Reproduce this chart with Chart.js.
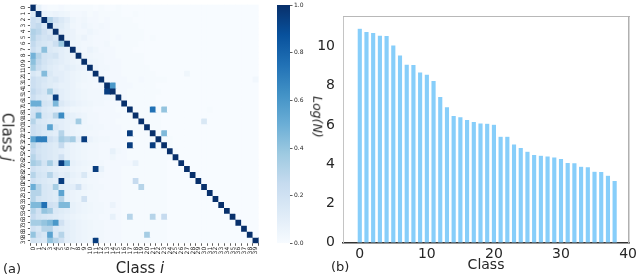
<!DOCTYPE html>
<html><head><meta charset="utf-8">
<script src="https://cdn.jsdelivr.net/npm/chart.js@4.4.0/dist/chart.umd.min.js"></script>
<style>
html,body{margin:0;padding:0;background:#fff;width:640px;height:277px;overflow:hidden;font-family:"DejaVu Sans",sans-serif;}
.box{position:absolute;top:0;height:277px;}
.lbl{position:absolute;color:#262626;white-space:nowrap;line-height:1;}
</style></head><body>
<div class="box" style="left:0;width:264px"><canvas id="heat"></canvas></div>
<div class="box" style="left:264px;width:46px"><canvas id="cbar"></canvas></div>
<div class="box" style="left:300px;width:340px"><canvas id="bars"></canvas></div>
<div class="lbl" style="left:7px;top:137px;font-size:15px;transform:translate(-50%,-50%) rotate(90deg)">Class <i>j</i></div>
<div class="lbl" style="left:140px;top:268px;font-size:15px;transform:translate(-50%,-50%)">Class <i>i</i></div>
<div class="lbl" style="left:3px;top:268px;font-size:13px;transform:translate(0,-50%)">(a)</div>
<div class="lbl" style="left:331px;top:266px;font-size:13px;transform:translate(0,-50%)">(b)</div>
<div class="lbl" style="left:317px;top:117px;font-size:12.5px;font-style:italic;transform:translate(-50%,-50%) rotate(90deg)">Log(N)</div>
<script>
// ---- data ----
const classLabels = Array.from({length: 40}, (_, i) => String(i));
// confusion matrix, percent of row (rows = class j, columns = class i)
const confusion = [
[100,8,2,1,1,2,1,1,1,1, 1,0,1,0,0,1,0,0,0,0, 0,0,0,0,0,0,0,0,0,0, 0,0,0,0,0,0,0,0,0,0],
[12,100,6,5,6,5,4,2,2,3, 1,2,1,1,1,1,0,0,1,0, 0,0,0,0,0,0,0,0,0,0, 0,0,0,0,0,0,0,0,0,0],
[22,18,100,30,20,14,10,5,3,4, 2,2,1,2,1,1,1,1,0,0, 0,0,0,0,0,0,0,0,0,0, 0,0,0,0,0,0,0,0,0,0],
[22,26,14,100,14,12,8,4,3,5, 3,2,3,2,1,1,1,1,1,0, 0,0,0,0,0,0,0,0,0,0, 0,0,0,0,0,0,0,0,0,0],
[32,28,20,14,100,10,8,6,3,3, 5,3,2,2,1,1,1,1,1,1, 0,0,0,0,0,0,0,0,0,0, 0,0,0,0,0,0,0,0,0,0],
[30,22,18,20,16,100,8,6,4,6, 3,2,2,2,1,2,1,1,1,1, 0,1,0,0,0,0,0,0,0,0, 0,0,0,0,0,0,0,0,0,0],
[26,18,16,14,22,38,100,5,4,3, 3,2,2,3,1,1,1,1,1,0, 0,0,0,0,0,0,0,0,0,0, 0,0,0,0,0,0,0,0,0,0],
[22,16,42,14,12,10,8,100,5,3, 6,4,2,2,2,1,1,1,0,0, 0,0,0,0,0,0,0,0,0,0, 0,0,0,0,0,0,0,0,0,0],
[48,30,18,16,18,10,8,6,100,4, 4,3,3,2,2,1,1,1,1,1, 0,0,0,0,0,0,0,0,0,0, 0,0,0,0,0,0,0,0,0,0],
[42,26,18,14,12,10,8,6,5,100, 5,4,3,2,2,2,1,1,1,1, 0,0,0,0,0,0,0,0,0,0, 0,0,0,0,0,0,0,0,0,0],
[36,22,16,12,10,8,10,8,6,6, 100,5,3,3,2,2,1,1,1,1, 1,0,0,0,0,0,0,0,0,0, 0,0,0,0,0,0,0,0,0,0],
[16,12,44,14,10,10,8,6,5,4, 3,100,3,2,2,2,1,1,1,1, 1,1,0,0,0,0,0,4,0,0, 0,0,0,0,0,0,0,0,0,0],
[22,18,16,12,14,10,8,6,5,4, 3,3,100,3,2,2,2,1,1,2, 1,1,1,1,0,0,0,0,0,0, 0,0,0,0,0,0,0,0,0,3],
[22,18,14,12,10,8,8,6,4,3, 3,2,3,100,60,2,2,2,1,1, 1,1,0,0,0,0,0,0,0,0, 0,0,0,0,0,0,0,0,0,0],
[26,20,16,36,14,10,8,6,5,4, 3,3,3,95,100,2,2,1,1,1, 1,1,1,0,0,0,0,0,0,0, 0,0,0,0,0,0,0,0,0,0],
[22,16,14,12,95,10,8,6,5,4, 3,3,3,3,4,100,2,1,1,1, 1,1,0,0,0,0,0,0,0,0, 0,0,0,0,0,0,0,0,0,0],
[50,50,18,16,46,14,10,8,6,5, 4,3,3,2,2,2,100,1,1,1, 1,1,0,0,0,0,0,0,0,0, 0,0,0,0,0,0,0,0,0,0],
[18,20,14,12,10,8,6,4,4,3, 3,2,2,2,2,1,1,100,1,1, 1,75,1,40,0,0,0,0,0,0, 0,1,0,0,0,0,0,0,0,0],
[20,46,16,14,30,65,10,8,6,5, 3,3,2,2,2,2,1,1,100,1, 1,1,1,0,0,0,0,0,0,0, 0,0,0,0,0,0,0,0,0,0],
[30,16,14,12,10,10,8,8,36,5, 3,3,2,2,2,1,1,1,1,100, 1,1,1,0,0,0,0,0,0,0, 15,0,0,0,0,0,0,0,0,0],
[22,18,16,55,14,10,8,6,5,4, 4,3,3,2,2,2,1,1,1,1, 100,1,1,0,0,0,0,0,0,0, 0,0,0,0,0,0,0,0,0,0],
[22,18,14,12,10,30,8,6,5,4, 3,3,2,2,2,2,1,95,1,1, 1,100,1,45,0,0,0,0,0,0, 0,0,0,0,0,0,0,0,0,0],
[55,70,70,20,16,35,30,35,10,95, 6,4,3,3,2,2,2,1,1,1, 1,1,100,1,1,0,0,0,0,0, 0,0,0,0,0,0,0,0,0,0],
[30,20,16,14,12,25,8,6,5,4, 3,3,2,2,2,2,1,95,1,1, 1,95,1,100,1,0,0,0,0,0, 0,0,0,0,0,0,0,0,0,0],
[25,18,16,14,12,10,8,6,5,4, 3,3,2,2,8,3,2,1,1,1, 1,1,1,1,100,1,0,0,0,0, 0,0,0,0,0,0,0,0,0,0],
[30,20,16,14,12,20,8,6,5,4, 3,3,2,2,4,2,2,1,1,1, 1,1,1,1,1,100,0,0,0,0, 0,0,0,0,0,0,0,0,0,0],
[35,30,18,35,16,95,50,8,6,5, 4,3,3,2,2,2,2,2,8,1, 1,1,1,1,0,0,100,0,0,0, 0,0,0,0,0,0,0,0,0,0],
[20,16,14,12,10,8,8,6,5,4, 3,95,8,2,2,2,1,1,1,1, 1,1,1,1,0,0,0,100,0,0, 0,0,0,0,0,0,0,0,0,0],
[30,18,16,30,14,10,12,8,6,15, 4,3,3,2,2,2,1,1,1,1, 1,1,1,1,0,0,0,0,100,0, 0,0,0,0,0,0,0,0,0,0],
[20,16,14,12,10,95,8,6,5,4, 3,3,2,2,2,2,1,1,25,1, 1,1,1,1,0,0,0,0,0,100, 0,0,0,0,0,0,0,0,0,0],
[50,30,16,14,35,12,10,10,20,6, 4,3,3,2,2,2,1,1,1,30, 1,1,1,1,0,0,0,0,0,0, 100,0,0,0,0,0,0,0,0,0],
[30,30,16,14,12,55,8,6,5,4, 3,3,2,2,2,2,1,1,1,1, 1,1,1,1,0,0,0,0,0,0, 0,100,0,0,0,0,0,0,0,0],
[30,18,16,14,12,30,8,6,5,20, 3,3,2,2,2,2,1,1,1,1, 1,1,1,1,0,0,0,0,0,0, 0,0,100,0,0,0,0,0,0,0],
[45,45,75,20,18,45,45,8,6,5, 4,3,3,2,6,2,1,1,1,1, 1,1,1,1,0,0,0,0,0,0, 0,0,0,100,0,0,0,0,0,0],
[30,20,40,35,14,12,10,8,6,5, 4,3,3,2,2,2,1,1,1,1, 1,1,1,1,0,0,0,0,0,0, 0,0,0,0,100,0,0,0,0,0],
[25,18,16,14,12,10,8,6,5,4, 3,3,2,2,8,2,1,30,1,1, 1,30,1,25,0,0,0,0,0,0, 0,0,0,0,0,100,0,0,0,0],
[35,35,40,45,60,20,10,8,6,5, 4,3,3,2,2,2,1,1,1,1, 1,1,1,1,0,0,0,0,0,0, 0,0,0,0,0,0,100,0,0,0],
[20,16,30,30,14,12,10,8,6,5, 4,3,3,2,2,2,1,1,1,1, 1,1,1,1,0,0,0,0,0,0, 0,0,0,0,0,0,0,100,0,0],
[40,20,16,55,14,30,10,8,6,5, 4,3,3,2,2,2,1,1,1,1, 35,1,1,1,0,0,0,0,0,0, 0,0,0,0,0,0,0,0,100,0],
[18,16,14,40,30,20,10,8,6,5, 4,95,3,2,2,2,1,1,1,1, 1,1,1,1,0,0,0,0,0,0, 0,0,0,0,0,0,0,0,0,100]
];
const colorbarTicks = [0, 0.2, 0.4, 0.6, 0.8, 1.0];
// bar chart: log of sample count per class
const barClasses = Array.from({length: 39}, (_, i) => i);
const logN = [10.93,10.76,10.71,10.58,10.56,10.08,9.57,9.10,9.09,8.70,
              8.59,8.27,7.45,6.93,6.49,6.42,6.28,6.18,6.10,6.09,
              6.04,5.43,5.43,5.03,4.86,4.66,4.50,4.46,4.42,4.37,
              4.30,4.09,4.08,3.90,3.87,3.64,3.63,3.44,3.18];
const barTicks = [0, 2, 4, 6, 8, 10];
const barXTicks = [0, 10, 20, 30, 40];

// ---- styling helpers ----
const BLUES = [[247,251,255],[222,235,247],[198,219,239],[158,202,225],[107,174,214],[66,146,198],[33,113,181],[8,81,156],[8,48,107]];
function blues(t){
  t = Math.max(0, Math.min(1, t));
  const p = t * 8, i = Math.min(7, Math.floor(p)), f = p - i;
  const a = BLUES[i], b = BLUES[i+1];
  return 'rgb(' + a.map((v,k) => Math.round(v + (b[k]-v)*f)).join(',') + ')';
}
Chart.defaults.font.family = "'DejaVu Sans', sans-serif";
Chart.defaults.color = '#262626';
const noPlugins = {legend:{display:false}, tooltip:{enabled:false}};

// ---- heatmap ----
new Chart(document.getElementById('heat'), {
  type: 'bar',
  data: {
    labels: classLabels,
    datasets: confusion.map((row, j) => ({
      label: 'Class j = ' + classLabels[j],
      data: row.map(() => [j - 0.5, j + 0.5]),
      backgroundColor: row.map(v => blues(v / 100)),
      borderWidth: 0,
      inflateAmount: 0.4,
      barPercentage: 1, categoryPercentage: 1, grouped: false
    }))
  },
  options: {
    responsive: true, maintainAspectRatio: false, animation: false,
    layout: {padding: {top: 2.3, right: 0.3, bottom: 0, left: 0}, autoPadding: false},
    plugins: noPlugins,
    scales: {
      x: {
        type: 'category', offset: true,
        grid: {display: true, drawOnChartArea: false, drawTicks: true, tickLength: 2.5, color: '#333', lineWidth: 0.8},
        border: {display: false},
        ticks: {font: {size: 6}, color: '#262626', minRotation: 90, maxRotation: 90, autoSkip: false, padding: 1},
        afterFit: s => { s.height = 33.7; }
      },
      y: {
        type: 'linear', reverse: true, min: -0.5, max: 39.5,
        afterBuildTicks: s => { s.ticks = classLabels.map((_, i) => ({value: i})); },
        grid: {display: true, drawOnChartArea: false, drawTicks: true, tickLength: 2.5, color: '#333', lineWidth: 0.8},
        border: {display: false},
        ticks: {font: {size: 6}, color: '#262626', minRotation: 90, maxRotation: 90, autoSkip: false, padding: 1, crossAlign: 'center',
                callback: v => classLabels[v]},
        afterFit: s => { s.width = 30.4; }
      }
    }
  }
});

// ---- colorbar ----
new Chart(document.getElementById('cbar'), {
  type: 'bar',
  data: {
    labels: ['scale'],
    datasets: [{
      data: [[0, 1]],
      backgroundColor: (ctx) => {
        const ch = ctx.chart, a = ch.chartArea;
        if (!a) return blues(0.5);
        const g = ch.ctx.createLinearGradient(0, a.bottom, 0, a.top);
        BLUES.forEach((c, i) => g.addColorStop(i / 8, 'rgb(' + c.join(',') + ')'));
        return g;
      },
      borderWidth: 0, barPercentage: 1, categoryPercentage: 1
    }]
  },
  options: {
    responsive: true, maintainAspectRatio: false, animation: false,
    layout: {padding: {top: 2.3, right: 0, bottom: 33.7, left: 13}, autoPadding: false},
    plugins: noPlugins,
    scales: {
      x: {display: false},
      y: {
        position: 'right', min: 0, max: 1,
        afterBuildTicks: s => { s.ticks = colorbarTicks.map(v => ({value: v})); },
        grid: {display: true, drawOnChartArea: false, drawTicks: true, tickLength: 2.5, color: '#333', lineWidth: 0.8},
        border: {display: false},
        ticks: {font: {size: 6}, color: '#262626', padding: 1.5, callback: v => Number(v).toFixed(1)},
        afterFit: s => { s.width = 20; }
      }
    }
  }
});

// ---- bar chart ----
new Chart(document.getElementById('bars'), {
  type: 'bar',
  data: {
    datasets: [{
      label: 'Log(N)',
      data: barClasses.map((c, i) => ({x: c, y: logN[i]})),
      backgroundColor: '#87CEFA',
      borderColor: 'rgba(255,255,255,0.55)',
      borderWidth: 0.6,
      barPercentage: 0.8, categoryPercentage: 1
    }]
  },
  options: {
    responsive: true, maintainAspectRatio: false, animation: false,
    layout: {padding: {top: 3.3, right: 7, bottom: 0, left: 0}, autoPadding: false},
    plugins: noPlugins,
    scales: {
      x: {
        type: 'linear', min: -2.5, max: 40.15, offset: false,
        afterBuildTicks: s => { s.ticks = barXTicks.map(v => ({value: v})); },
        grid: {display: false, drawTicks: false},
        border: {display: true, color: '#333', width: 1.5},
        ticks: {font: {size: 14}, color: '#262626', padding: 3, maxRotation: 0, autoSkip: false},
        title: {display: true, text: 'Class', font: {size: 14}, color: '#262626', padding: {top: 0, bottom: 3}},
        afterFit: s => { s.height = 34.3; }
      },
      y: {
        min: 0, max: 11.53,
        afterBuildTicks: s => { s.ticks = barTicks.map(v => ({value: v})); },
        grid: {display: false, drawTicks: false},
        border: {display: true, color: '#c4c4c4', width: 1},
        ticks: {font: {size: 14}, color: '#262626', padding: 8},
        afterFit: s => { s.width = 43; }
      },
      xTop: {
        type: 'linear', position: 'top', min: 0, max: 1,
        grid: {display: false, drawTicks: false}, ticks: {display: false},
        border: {display: true, color: '#b8b8b8', width: 1},
        afterFit: s => { s.height = 0; }
      },
      yRight: {
        type: 'linear', position: 'right', min: 0, max: 1,
        grid: {display: false, drawTicks: false}, ticks: {display: false},
        border: {display: true, color: '#b0b0b0', width: 1.5},
        afterFit: s => { s.width = 0; }
      }
    }
  }
});
</script>
</body></html>
